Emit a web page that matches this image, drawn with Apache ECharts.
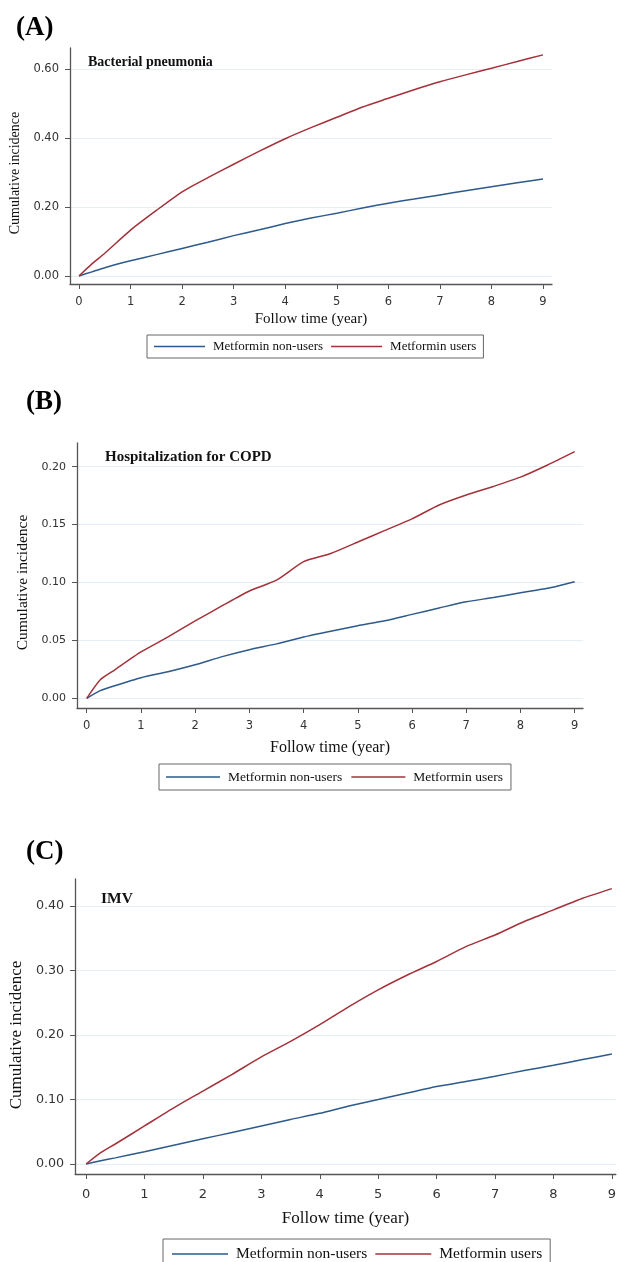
<!DOCTYPE html>
<html>
<head>
<meta charset="utf-8">
<script src="https://cdn.jsdelivr.net/npm/echarts@6/dist/echarts.min.js"></script>
<style>
html, body { margin: 0; padding: 0; background: #fff; }
#main { width: 619px; height: 1262px; }
</style>
</head>
<body>
<div id="main"></div>
<script>
// follow-up time points (years)
var years = [0, 0.25, 0.5, 1, 1.5, 2, 2.5, 3, 3.5, 4, 4.5, 5, 5.5, 6, 6.5, 7, 7.5, 8, 8.5, 9];
var xTicks = [0, 1, 2, 3, 4, 5, 6, 7, 8, 9];

// (A) bacterial pneumonia
var bactNonUsers = [0, 0.012, 0.024, 0.044, 0.062, 0.080, 0.098, 0.117, 0.134, 0.152, 0.168, 0.182, 0.197, 0.211, 0.223, 0.235, 0.247, 0.259, 0.270, 0.281];
var bactUsers = [0, 0.035, 0.066, 0.133, 0.190, 0.244, 0.285, 0.324, 0.362, 0.398, 0.430, 0.460, 0.490, 0.515, 0.540, 0.563, 0.583, 0.602, 0.622, 0.641];
var yTicksA = [0, 0.2, 0.4, 0.6];

// (B) hospitalization for COPD
var copdNonUsers = [0, 0.0066, 0.0106, 0.0178, 0.023, 0.029, 0.036, 0.042, 0.047, 0.053, 0.058, 0.0627, 0.067, 0.0725, 0.078, 0.0834, 0.087, 0.0912, 0.095, 0.1007];
var copdUsers = [0, 0.016, 0.024, 0.040, 0.053, 0.0668, 0.080, 0.0927, 0.102, 0.118, 0.125, 0.135, 0.145, 0.155, 0.167, 0.1756, 0.183, 0.191, 0.2015, 0.213];
var yTicksB = [0, 0.05, 0.1, 0.15, 0.2];

// (C) IMV
var imvNonUsers = [0, 0.005, 0.0095, 0.019, 0.029, 0.039, 0.049, 0.059, 0.069, 0.0786, 0.090, 0.100, 0.110, 0.120, 0.128, 0.136, 0.145, 0.153, 0.162, 0.1705];
var imvUsers = [0, 0.0176, 0.031, 0.059, 0.087, 0.113, 0.139, 0.166, 0.190, 0.216, 0.244, 0.270, 0.293, 0.314, 0.337, 0.355, 0.376, 0.394, 0.412, 0.427];
var yTicksC = [0, 0.1, 0.2, 0.3, 0.4];

var names = ['Metformin non-users', 'Metformin users'];
var blue = '#2e5a8b';
var red = '#a3323a';
var serif = '"Liberation Serif", "Times New Roman", serif';
var sans = '"DejaVu Sans", Verdana, sans-serif';

function pairs(xs, ys) {
    return xs.map(function (x, i) { return [x, ys[i]]; });
}

function xAxisFor(gridIndex, min, max, labelSize, nameSize, nameGap, margin) {
    return {
        gridIndex: gridIndex,
        type: 'value',
        min: min,
        max: max,
        name: 'Follow time (year)',
        nameLocation: 'middle',
        nameGap: nameGap,
        nameTextStyle: { fontFamily: serif, fontSize: nameSize, color: '#111' },
        axisLine: { show: true, onZero: false, lineStyle: { color: '#555', width: 1.3 } },
        axisTick: { show: true, inside: false, length: 5, customValues: xTicks, lineStyle: { color: '#555' } },
        axisLabel: { customValues: xTicks, margin: margin, fontFamily: sans, fontSize: labelSize, color: '#333' },
        splitLine: { show: false }
    };
}

function yAxisFor(gridIndex, min, max, ticks, labelSize, nameSize, nameGap, shift) {
    return {
        gridIndex: gridIndex,
        type: 'value',
        min: min,
        max: max,
        name: 'Cumulative incidence',
        nameLocation: 'middle',
        nameGap: nameGap,
        nameTextStyle: { fontFamily: serif, fontSize: nameSize, color: '#111', padding: [0, shift, 0, 0] },
        axisLine: { show: true, onZero: false, lineStyle: { color: '#555', width: 1.3 } },
        axisTick: { show: true, inside: false, length: 5, customValues: ticks, lineStyle: { color: '#555' } },
        axisLabel: {
            customValues: ticks, margin: 11, fontFamily: sans, fontSize: labelSize, color: '#333',
            formatter: function (v) { return v.toFixed(2); }
        },
        splitLine: { show: true, lineStyle: { color: '#e6eef3', width: 1.2 } }
    };
}

function lineSeries(name, idx, data, color) {
    return {
        name: name,
        type: 'line',
        xAxisIndex: idx,
        yAxisIndex: idx,
        data: pairs(years, data),
        showSymbol: false,
        symbol: 'none',
        smooth: 0.2,
        color: color,
        lineStyle: { color: color, width: 1.5 },
        silent: true
    };
}

function legendFor(left, top, fontSize, itemWidth, pad, gap) {
    return {
        left: left,
        top: top,
        data: names,
        orient: 'horizontal',
        icon: 'rect',
        itemWidth: itemWidth,
        itemHeight: 1.6,
        itemGap: gap,
        padding: pad,
        borderColor: '#666',
        borderWidth: 1,
        selectedMode: false,
        textStyle: { fontFamily: serif, fontSize: fontSize, color: '#111', padding: [0, 0, 0, 3] }
    };
}

var chart = echarts.init(document.getElementById('main'));

var option = {
    backgroundColor: '#fff',
    animation: false,
    title: [
        { text: '(A)', left: 11, top: 10, textStyle: { fontFamily: serif, fontSize: 27, fontWeight: 'bold', color: '#000' } },
        { text: '(B)', left: 21, top: 384, textStyle: { fontFamily: serif, fontSize: 27, fontWeight: 'bold', color: '#000' } },
        { text: '(C)', left: 21, top: 834, textStyle: { fontFamily: serif, fontSize: 27, fontWeight: 'bold', color: '#000' } },
        { text: 'Bacterial pneumonia', left: 83, top: 50, textStyle: { fontFamily: serif, fontSize: 14, fontWeight: 'bold', color: '#111' } },
        { text: 'Hospitalization for COPD', left: 100, top: 445, textStyle: { fontFamily: serif, fontSize: 15, fontWeight: 'bold', color: '#111' } },
        { text: 'IMV', left: 96, top: 886, textStyle: { fontFamily: serif, fontSize: 15.5, fontWeight: 'bold', color: '#111' } }
    ],
    legend: [
        legendFor(147, 335, 13, 51, [5, 7, 5, 7], 8),
        legendFor(159, 764, 13.5, 54, [6, 8, 6, 7], 9),
        legendFor(163, 1239, 15.5, 56, [7, 8, 7, 9], 8)
    ],
    grid: [
        { left: 70, top: 48, width: 482, height: 236 },
        { left: 77, top: 443, width: 506, height: 265 },
        { left: 75, top: 879, width: 543, height: 295 }
    ],
    xAxis: [
        xAxisFor(0, -0.1746, 9.1746, 11.5, 15, 28, 12),
        xAxisFor(1, -0.179, 9.153, 11.5, 16, 32, 12),
        xAxisFor(2, -0.187, 9.068, 13, 17, 36, 14)
    ],
    yAxis: [
        yAxisFor(0, -0.0232, 0.6609, yTicksA, 11.5, 14, 44, 14),
        yAxisFor(1, -0.00838, 0.2205, yTicksB, 11, 15.5, 44, 14),
        yAxisFor(2, -0.0155, 0.4419, yTicksC, 12.7, 17, 48, 17)
    ],
    series: [
        lineSeries(names[0], 0, bactNonUsers, blue),
        lineSeries(names[1], 0, bactUsers, red),
        lineSeries(names[0], 1, copdNonUsers, blue),
        lineSeries(names[1], 1, copdUsers, red),
        lineSeries(names[0], 2, imvNonUsers, blue),
        lineSeries(names[1], 2, imvUsers, red)
    ]
};

chart.setOption(option);
window.addEventListener('resize', function () {
    chart.resize();
});
</script>
</body>
</html>
